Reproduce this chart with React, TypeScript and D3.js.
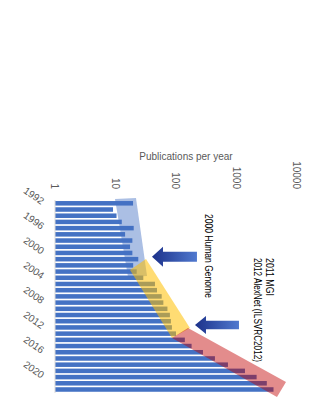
import React from 'react';
import * as d3 from 'd3';

const years = [1992, 1993, 1994, 1995, 1996, 1997, 1998, 1999, 2000, 2001, 2002, 2003, 2004, 2005, 2006, 2007, 2008, 2009, 2010, 2011, 2012, 2013, 2014, 2015, 2016, 2017, 2018, 2019, 2020, 2021, 2022];
const pubs = [19.5, 9.1, 10.4, 12.7, 20, 14.4, 19, 17.4, 19, 23.8, 19.6, 22.4, 28.8, 44.9, 48.5, 58, 61.8, 72.2, 79.3, 82.4, 85.6, 100, 140, 181, 279, 440, 722, 1380, 2150, 3170, 4090];
const yearTicks = [1992, 1996, 2000, 2004, 2008, 2012, 2016, 2020];
const valueTicks = [1, 10, 100, 1000, 10000];
const axisTitle = 'Publications per year';

// highlight bands, corners as [value, fractional year]
const genomeBand: [number, number][] = [[9.8, 1991.31], [21.8, 1991.15], [33.2, 2003.71], [16.1, 2003.87]];
const mgiBand: [number, number][] = [[17.4, 2002.75], [31.9, 2000.97], [170, 2012.09], [85.9, 2013.7]];
const deepBand: [number, number][] = [[85.9, 2013.7], [158, 2012.09], [6580, 2020.79], [4670, 2023.21]];
const arrowTips = [40.1, 206];
const arrowYears = [2000.6, 2011.61];
const arrowTails = [222, 1099];
const noteTexts = ['2000 Human Genome', '2011 MGI', '2012 AlexNet (ILSVRC2012)'];
const noteValues = [296, 3074, 1946];
const noteYears = [1993.72, 2000.81, 2000.81];

const W = 324, H = 400;
const FONT = 'Liberation Sans, Arial, sans-serif';

export default function App() {
  const x = d3.scaleLog().domain([1, 10000]).range([55, 297]);
  const y = d3.scaleBand<number>().domain(years).range([200.2, 392.6]).paddingInner(0.27).paddingOuter(0.135);
  const step = y.step();
  const yc = (yr: number) => (y(1992) as number) + y.bandwidth() / 2 + (yr - 1992) * step;
  const poly = (pts: [number, number][]) => pts.map(([v, yr]) => `${x(v)},${yc(yr)}`).join(' ');

  const arrowPath = (i: number, head: number, shaft: number, headLen: number) => {
    const tx = x(arrowTips[i]);
    const ty = yc(arrowYears[i]);
    const hx = tx + headLen;
    const ex = x(arrowTails[i]);
    return `M${tx},${ty} L${hx},${ty - head} L${hx},${ty - shaft} L${ex},${ty - shaft} L${ex},${ty + shaft} L${hx},${ty + shaft} L${hx},${ty + head} Z`;
  };

  return (
    <svg width={W} height={H} style={{ position: 'absolute', left: 0, top: 0, background: '#fff' }} fontFamily={FONT}>
      <defs>
        <linearGradient id="arrowGrad" x1="0" x2="1" y1="0" y2="0">
          <stop offset="0" stopColor="#1c318a" />
          <stop offset="1" stopColor="#5079cf" />
        </linearGradient>
      </defs>
      <text x={186} y={160} textAnchor="middle" fontSize={10} fill="#595959">{axisTitle}</text>
      {valueTicks.map((t) => (
        <text key={t} transform={`translate(${x(t) - 3.6},189) rotate(90)`} textAnchor="end" fontSize={10} fill="#595959">{t}</text>
      ))}
      {yearTicks.map((yr) => (
        <text key={yr} transform={`translate(41,${yc(yr) + 1.7}) rotate(35)`} textAnchor="end" fontSize={10} fill="#595959">{yr}</text>
      ))}
      {years.map((yr, i) => (
        <rect key={yr} x={x(1)} y={y(yr)} width={x(pubs[i]) - x(1)} height={y.bandwidth()} fill="#4472c4" />
      ))}
      <line x1={55} x2={55} y1={200} y2={393} stroke="#d9d9d9" strokeWidth={1} />
      <polygon points={poly(genomeBand)} fill="#4472c4" fillOpacity={0.45} />
      <polygon points={poly(mgiBand)} fill="#ffc000" fillOpacity={0.55} />
      <polygon points={poly(deepBand)} fill="#c00000" fillOpacity={0.45} />
      <path d={arrowPath(0, 10, 5, 11)} fill="url(#arrowGrad)" />
      <path d={arrowPath(1, 9, 4.3, 11)} fill="url(#arrowGrad)" />
      <text transform={`translate(${x(noteValues[0])},${yc(noteYears[0])}) rotate(90)`} fontSize={10.5} fill="#000" textLength={84} lengthAdjust="spacingAndGlyphs">{noteTexts[0]}</text>
      <text transform={`translate(${x(noteValues[1])},${yc(noteYears[1])}) rotate(90)`} fontSize={10.5} fill="#000" textLength={38} lengthAdjust="spacingAndGlyphs">{noteTexts[1]}</text>
      <text transform={`translate(${x(noteValues[2])},${yc(noteYears[2])}) rotate(90)`} fontSize={10.5} fill="#000" textLength={104} lengthAdjust="spacingAndGlyphs">{noteTexts[2]}</text>
    </svg>
  );
}
